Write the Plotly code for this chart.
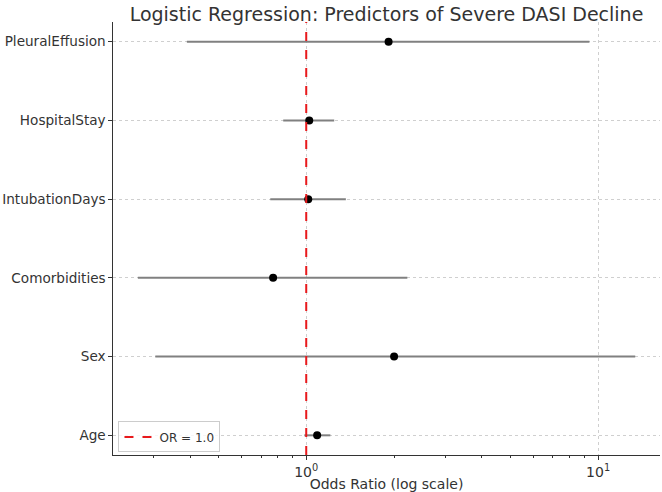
import plotly.graph_objects as go

predictors = ["Age", "Sex", "Comorbidities", "IntubationDays", "HospitalStay", "PleuralEffusion"]
odds_ratio = [1.09, 2.00, 0.77, 1.016, 1.024, 1.915]
ci_lower = [0.985, 0.304, 0.265, 0.753, 0.834, 0.390]
ci_upper = [1.21, 13.4, 2.22, 1.367, 1.247, 9.34]
ref_or = 1.0
x_major_ticks = [1, 10]
x_major_text = ["10<sup>0</sup>", "10<sup>1</sup>"]
x_minor_ticks = [0.3, 0.4, 0.5, 0.6, 0.7, 0.8, 0.9, 2, 3, 4, 5, 6, 7, 8, 9]

ypos = list(range(len(predictors)))
err_plus = [u - o for u, o in zip(ci_upper, odds_ratio)]
err_minus = [o - l for o, l in zip(odds_ratio, ci_lower)]

FONT = "DejaVu Sans"
TXT = "#333333"

fig = go.Figure()
fig.add_trace(go.Scatter(
    x=odds_ratio, y=ypos, mode="markers",
    marker=dict(color="black", size=8),
    error_x=dict(type="data", symmetric=False, array=err_plus, arrayminus=err_minus,
                 color="#808080", thickness=2, width=0),
    showlegend=False,
))
fig.add_shape(type="line", xref="x", yref="paper", x0=ref_or, x1=ref_or, y0=0, y1=1,
              line=dict(color="#e8191c", width=2, dash="dash"),
              showlegend=True, name="OR = %.1f" % ref_or)

fig.update_layout(
    width=662, height=492,
    margin=dict(l=113, r=2, t=22, b=37),
    plot_bgcolor="white", paper_bgcolor="white",
    font=dict(family=FONT, size=14, color=TXT),
    title=dict(text="Logistic Regression: Predictors of Severe DASI Decline",
               x=0.5, xref="paper", xanchor="center", y=0.971, yanchor="middle",
               font=dict(size=19, color=TXT), automargin=False),
    legend=dict(x=0.01, y=0.006, xanchor="left", yanchor="bottom",
                bgcolor="rgba(255,255,255,0.8)", bordercolor="#cccccc", borderwidth=1,
                font=dict(size=12, color=TXT), tracegroupgap=0),
    xaxis=dict(type="log", range=[-0.662, 1.212], automargin=False,
               tickmode="array", tickvals=x_major_ticks, ticktext=x_major_text,
               ticks="outside", ticklen=4, tickcolor=TXT,
               showline=True, linecolor=TXT, linewidth=1.2,
               showgrid=True, gridcolor="#cfcfcf", griddash="dot", gridwidth=0.8,
               zeroline=False,
               minor=dict(tickmode="array", tickvals=x_minor_ticks, ticks="outside",
                          ticklen=2, tickcolor=TXT, showgrid=False),
               title=dict(text="Odds Ratio (log scale)", font=dict(size=14), standoff=3)),
    yaxis=dict(range=[-0.25, 5.25], automargin=False,
               tickmode="array", tickvals=ypos, ticktext=predictors,
               tickfont=dict(size=13.6),
               ticks="outside", ticklen=3.5, tickcolor=TXT,
               showline=True, linecolor=TXT, linewidth=1.2,
               showgrid=True, gridcolor="#cfcfcf", griddash="dot", gridwidth=0.8,
               zeroline=False),
)
fig.write_html("out.html")
